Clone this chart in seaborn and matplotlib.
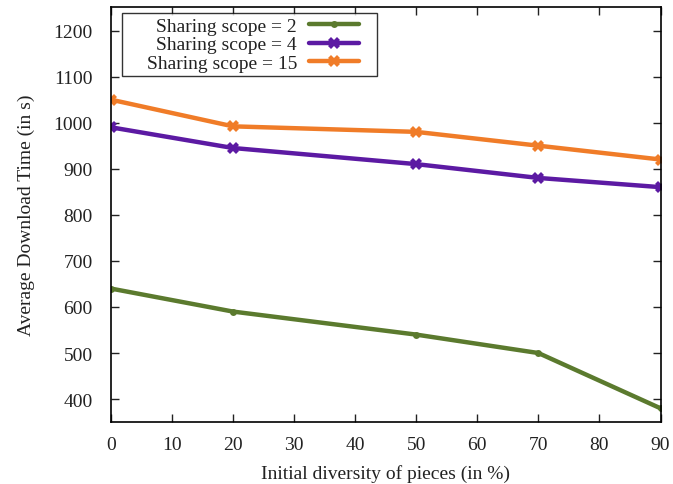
import matplotlib
matplotlib.use("Agg")
import matplotlib.pyplot as plt
from matplotlib.offsetbox import DrawingArea
import seaborn as sns
import pandas as pd

diversity = [0, 20, 50, 70, 90]
scope2 = [640, 590, 540, 500, 380]
scope4 = [990, 945, 910, 880, 860]
scope15 = [1050, 992, 980, 950, 920]
labels = ["Sharing scope = 2", "Sharing scope = 4", "Sharing scope = 15"]
colors = ["#5b7a2e", "#5c1aa3", "#f07c28"]
markers = ["o", "X", "X"]
msizes = [5, 8, 8]

df = pd.DataFrame({
    "x": diversity * 3,
    "y": scope2 + scope4 + scope15,
    "series": [labels[0]] * 5 + [labels[1]] * 5 + [labels[2]] * 5,
})

sns.set_theme(style="ticks")
plt.rcParams["font.family"] = ["Liberation Serif", "DejaVu Serif"]
plt.rcParams["mathtext.fontset"] = "stix"

fig = plt.figure(figsize=(6.73, 4.85), dpi=100)
ax = fig.add_axes([0.1645, 0.1285, 0.817, 0.855])

for lab, col, mk, ms in zip(labels, colors, markers, msizes):
    sub = df[df["series"] == lab]
    sns.lineplot(data=sub, x="x", y="y", ax=ax, color=col, lw=3.2, marker=mk,
                 markersize=ms, markeredgewidth=0, label=lab)

ax.set_xlim(0, 90)
ax.set_ylim(351, 1251)
ax.set_xticks(range(0, 91, 10))
ax.set_yticks(range(400, 1201, 100))
ax.tick_params(direction="in", length=6, width=1, top=True, right=True,
               labelsize=14, colors="#222222")
ax.tick_params(axis="x", pad=10)
ax.tick_params(axis="y", pad=13)
for s in ax.spines.values():
    s.set_linewidth(1.2)
    s.set_color("black")
ax.set_xlabel("Initial diversity of pieces (in %)", fontsize=14, labelpad=8,
              color="#222222")
ax.set_ylabel("Average Download Time (in s)", fontsize=14, labelpad=13,
              color="#222222")

leg = ax.legend(loc="upper left", bbox_to_anchor=(0.021, 0.985), markerfirst=False,
                frameon=True, fancybox=False, edgecolor="black", fontsize=14,
                handlelength=2.6, labelspacing=0.05, borderpad=0.2,
                handletextpad=0.6, borderaxespad=0, columnspacing=0.2)
leg.get_frame().set_linewidth(1.0)
for t in leg.get_texts():
    t.set_color("#222222")
# extra horizontal padding inside the legend box (left wider than right)
try:
    hb = leg._legend_handle_box
    hb._children.insert(0, DrawingArea(12, 0))
    hb._children.append(DrawingArea(7, 0))
except Exception:
    pass

fig.savefig("out.png", dpi=100)
